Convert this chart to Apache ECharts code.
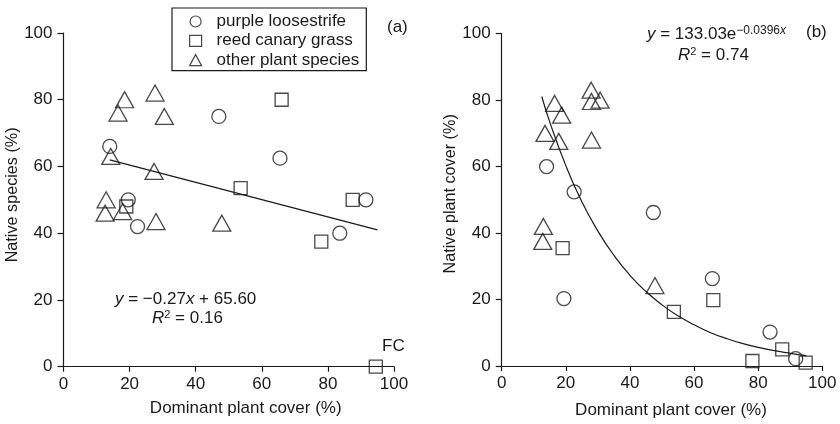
<!DOCTYPE html>
<html>
<head>
<meta charset="utf-8">
<script src="https://cdn.jsdelivr.net/npm/echarts@6/dist/echarts.min.js"></script>
<style>
html,body{margin:0;padding:0;background:#fff;}
#c{width:840px;height:424px;}
</style>
</head>
<body>
<div id="c"></div>
<script>
// ---- data ----
const seriesNames = ['purple loosestrife', 'reed canary grass', 'other plant species'];
const xTicks = [0, 20, 40, 60, 80, 100];
const yTicks = [0, 20, 40, 60, 80, 100];

// panel (a): native species (%) vs dominant plant cover (%)
const loosestrifeA = [[14,66],[47,75],[65.5,62.5],[19.6,50],[91.5,50],[22.4,42],[83.6,40]];
const canaryA      = [[66,80],[53.6,53.5],[87.5,50],[19,48],[78,37.5],[94.5,0]];
const otherA       = [[18.5,80],[16.5,76],[27.7,82],[30.5,75],[14.3,63],[27.4,58.5],[12.9,50],[12.6,46],[17.9,46.5],[28,43.5],[47.9,43]];
const fitLineA     = [[14,62],[95,41]];

// panel (b): native plant cover (%) vs dominant plant cover (%)
const loosestrifeB = [[14,60],[22.6,52.4],[47.3,46.2],[19.4,20.3],[65.7,26.3],[83.7,10.2],[91.7,2.2]];
const canaryB      = [[19,35.5],[66,19.8],[53.7,16.3],[87.5,5],[78.2,1.5],[94.8,1]];
const otherB       = [[16.5,79],[18.7,75.5],[13.5,70],[17.8,67.6],[27.9,83],[28,79.6],[30.7,80],[28,68],[13,42],[12.8,37.5],[47.8,24.2]];
const fitCurveB    = [[12.5,81.1],[15,73.4],[20,60.3],[25,49.4],[30,40.6],[35,33.3],[40,27.3],[45,22.4],[50,18.4],[55,15.1],[60,12.4],[65,10.1],[70,8.3],[75,6.8],[80,5.6],[85,4.6],[90,3.8],[95,3.1]];

// ---- style ----
const FF = '"Liberation Sans", Arial, Helvetica, sans-serif';
const INK = '#1a1a1a';
const FS = 17;
const FSV = 16.2;
const symbols = ['circle', 'rect', 'triangle'];
const symSizes = [14, 13, [18, 16]];

function mkScatter(name, idx, data, gi) {
  return {
    type: 'scatter', name: name, xAxisIndex: gi, yAxisIndex: gi, data: data,
    symbol: symbols[idx], symbolSize: symSizes[idx],
    itemStyle: { color: 'rgba(0,0,0,0)', borderColor: INK, borderWidth: 1.3 },
    emphasis: { disabled: true }, z: 3
  };
}
function mkLine(data, gi, smooth) {
  return {
    type: 'line', data: data, xAxisIndex: gi, yAxisIndex: gi, showSymbol: false,
    smooth: smooth, lineStyle: { color: INK, width: 1.2 }, silent: true, z: 2
  };
}
function xAx(gi, nameGap, shift) {
  return {
    type: 'value', gridIndex: gi, min: 0, max: 100, interval: 20,
    name: 'Dominant plant cover (%)', nameLocation: 'middle', nameGap: nameGap,
    nameTextStyle: { fontFamily: FF, fontSize: FS, color: INK, padding: [0, 0, 0, shift] },
    axisLine: { lineStyle: { color: INK, width: 1.2 } },
    axisTick: { length: 5, lineStyle: { color: INK, width: 1.2 } },
    axisLabel: { fontFamily: FF, fontSize: FS, color: INK, margin: 9,
      formatter: v => (xTicks.indexOf(v) >= 0 ? String(v) : '') },
    splitLine: { show: false }
  };
}
function yAx(gi, name, nameGap, shift) {
  return {
    type: 'value', gridIndex: gi, min: 0, max: 100, interval: 20,
    name: name, nameLocation: 'middle', nameGap: nameGap, nameRotate: 90,
    nameTextStyle: { fontFamily: FF, fontSize: FSV, color: INK, padding: [0, 0, 0, shift] },
    axisLine: { show: true, lineStyle: { color: INK, width: 1.2 } },
    axisTick: { show: true, length: 6, lineStyle: { color: INK, width: 1.2 } },
    axisLabel: { fontFamily: FF, fontSize: FS, color: INK, margin: 11,
      formatter: v => (yTicks.indexOf(v) >= 0 ? String(v) : '') },
    splitLine: { show: false }
  };
}
const rich = {
  n: { fontFamily: FF, fontSize: FS, color: INK, lineHeight: 18 },
  i: { fontFamily: FF, fontSize: FS, fontStyle: 'italic', color: INK, lineHeight: 18 },
  s: { fontFamily: FF, fontSize: 11, color: INK, lineHeight: 13, verticalAlign: 'top' },
  e: { fontFamily: FF, fontSize: 12, color: INK, lineHeight: 11, verticalAlign: 'top' },
  ei: { fontFamily: FF, fontSize: 12, fontStyle: 'italic', color: INK, lineHeight: 11, verticalAlign: 'top' }
};
function txt(x, y, text) {
  return { type: 'text', x: x, y: y, silent: true,
    style: { text: text, rich: rich, fontFamily: FF, fontSize: FS, fill: INK, verticalAlign: 'middle', align: 'left' } };
}

const chart = echarts.init(document.getElementById('c'), null, { renderer: 'canvas' });
chart.setOption({
  animation: false,
  backgroundColor: '#fff',
  grid: [
    { left: 63.5, top: 33, width: 330.5, height: 333.7 },
    { left: 501.7, top: 33.7, width: 320.6, height: 333 }
  ],
  xAxis: [ xAx(0, 33, 34), xAx(1, 36, 18) ],
  yAxis: [ yAx(0, 'Native species (%)', 36, 10), yAx(1, 'Native plant cover (%)', 42, 12) ],
  legend: {
    data: seriesNames, orient: 'vertical', left: 172, top: 8,
    padding: [5, 7, 2, 17], itemGap: 2.3, itemWidth: 12, itemHeight: 11,
    borderColor: INK, borderWidth: 1.2, selectedMode: false,
    itemStyle: { color: 'rgba(0,0,0,0)', borderColor: INK, borderWidth: 1.2 },
    textStyle: { fontFamily: FF, fontSize: FS, color: INK, lineHeight: 16, padding: [0, 0, 0, 10] }
  },
  series: [
    mkScatter(seriesNames[0], 0, loosestrifeA, 0),
    mkScatter(seriesNames[1], 1, canaryA, 0),
    mkScatter(seriesNames[2], 2, otherA, 0),
    mkLine(fitLineA, 0, false),
    mkScatter(seriesNames[0], 0, loosestrifeB, 1),
    mkScatter(seriesNames[1], 1, canaryB, 1),
    mkScatter(seriesNames[2], 2, otherB, 1),
    mkLine(fitCurveB, 1, true)
  ],
  graphic: [
    txt(387, 27, '{n|(a)}'),
    txt(115, 299, '{i|y}{n| = −0.27}{i|x}{n| + 65.60}'),
    txt(152, 318, '{i|R}{s|2}{n| = 0.16}'),
    txt(382, 346, '{n|FC}'),
    txt(647, 34, '{i|y}{n| = 133.03e}{e|−0.0396}{ei|x}'),
    txt(678, 55, '{i|R}{s|2}{n| = 0.74}'),
    txt(806, 32, '{n|(b)}')
  ]
});
</script>
</body>
</html>
